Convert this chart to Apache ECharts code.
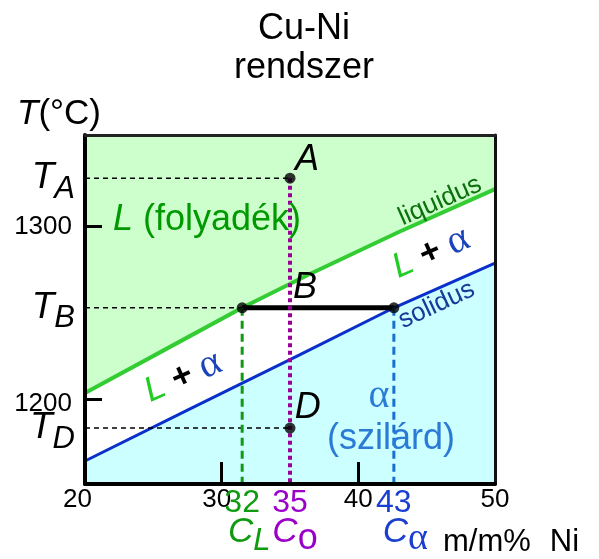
<!DOCTYPE html>
<html><head><meta charset="utf-8">
<script src="https://cdn.jsdelivr.net/npm/echarts@6/dist/echarts.min.js"></script>
<style>html,body{margin:0;padding:0;background:#fff}#c{width:599px;height:559px}</style>
</head><body><div id="c"></div>
<script>
// ---- data ----
const liquidusNi = [20, 27.3, 31.5, 36.3, 43, 50];
const liquidusT  = [1203.7, 1235, 1253, 1272, 1297, 1321.7];
const solidusNi  = [20, 27.5, 35.7, 42.6, 50];
const solidusT   = [1164.3, 1193.8, 1225.7, 1253, 1278.9];
const compositionNames = ['L', 'o', 'α'];          // C_L, C_o, C_α
const compositionValues = [31.5, 35, 42.6];
const compositionTickText = ['32', '35', '43'];
const tempNames  = ['A', 'B', 'D'];                // T_A, T_B, T_D
const tempValues = [1328, 1253, 1183.4];
const xTickValues = [20, 30, 40, 50];
const yTickValues = [1200, 1300];

const CL = compositionValues[0], C0 = compositionValues[1], Ca = compositionValues[2];
const TA = tempValues[0], TB = tempValues[1], TD = tempValues[2];

const SANS = 'Liberation Sans, Arial, sans-serif';
const SERIF = 'Liberation Serif, Times New Roman, serif';
const GREEN_T = '#109a10', PURPLE_T = '#9a00c8', BLUE_T = '#1a3fd0';

const zip = (a, b) => a.map((v, i) => [v, b[i]]);

// annotation layout (data coordinates)
const annotations = [
  { value: [36.24, 1338.5], text: '{i|A}' },
  { value: [36.1, 1264.4], text: '{i|B}' },
  { value: [36.3, 1195], text: '{i|D}' },
  { value: [22.05, 1303.8], text: '{gi|L}{g| (folyadék)}', align: 'left' },
  { value: [45.98, 1314.8], text: '{liq|liquidus}', rotate: 24 },
  { value: [45.32, 1284.7], text: '{Lb|L}{pl| + }{al|α}', rotate: 24 },
  { value: [45.73, 1254.6], text: '{sol|solidus}', rotate: 25 },
  { value: [27.17, 1212.9], text: '{Lb|L}{pl| + }{al|α}', rotate: 24 },
  { value: [41.51, 1201.4], text: '{as|α}' },
  { value: [42.39, 1176.8], text: '{sz|(szilárd)}' }
];

const chart = echarts.init(document.getElementById('c'), null, { renderer: 'canvas' });

const axisBlack = { show: true, lineStyle: { color: '#000', width: 4 } };
const Y_MIN = 1151, Y_MAX = 1353;

chart.setOption({
  animation: false,
  backgroundColor: '#fff',
  textStyle: { fontFamily: SANS },
  grid: { left: 85, right: 104, top: 135, bottom: 75, show: true, backgroundColor: '#ccffcc', borderWidth: 0, outerBoundsMode: 'none', containLabel: false },
  xAxis: [
    {
      type: 'value', min: 20, max: 50, position: 'bottom', z: 10,
      axisLine: axisBlack,
      splitLine: { show: false },
      axisTick: { show: true, inside: true, length: 22, customValues: [30, 40], lineStyle: { color: '#000', width: 3 } },
      axisLabel: {
        customValues: xTickValues, margin: 3, color: '#000', fontSize: 26, fontFamily: SANS, hideOverlap: false,
        formatter: v => v === 20 ? '{a|20}' : v === 30 ? '{b|30}' : '{n|' + v + '}',
        rich: {
          a: { fontSize: 26, padding: [0, 15, 0, 0], color: '#000' },
          b: { fontSize: 26, padding: [0, 10, 0, 0], color: '#000' },
          n: { fontSize: 26, color: '#000' }
        }
      }
    },
    {
      type: 'value', min: 20, max: 50, position: 'bottom', z: 10,
      axisLine: { show: false }, axisTick: { show: false }, splitLine: { show: false },
      axisLabel: {
        customValues: compositionValues, margin: 3.5, hideOverlap: false,
        formatter: v => {
          const i = compositionValues.findIndex(c => Math.abs(c - v) < 1e-6);
          const k = ['g', 'p', 'b'][i];
          return '{' + k + 'n|' + compositionTickText[i] + '}\n{' + k + 'C|C}{' + k + 's|' + compositionNames[i] + '}';
        },
        rich: {
          gn: { color: GREEN_T, fontSize: 32, height: 32, fontFamily: SANS },
          gC: { color: GREEN_T, fontSize: 35, fontStyle: 'italic', height: 26, verticalAlign: 'top', padding: [0, 0, 0, 14], fontFamily: SANS },
          gs: { color: GREEN_T, fontSize: 31, fontStyle: 'italic', height: 26, verticalAlign: 'top', padding: [9, 0, 0, 0], fontFamily: SANS },
          pn: { color: PURPLE_T, fontSize: 32, height: 32, fontFamily: SANS },
          pC: { color: PURPLE_T, fontSize: 35, fontStyle: 'italic', height: 26, verticalAlign: 'top', padding: [0, 0, 0, 10], fontFamily: SANS },
          ps: { color: PURPLE_T, fontSize: 36, height: 26, verticalAlign: 'top', padding: [6.5, 0, 0, 0], fontFamily: SANS },
          bn: { color: BLUE_T, fontSize: 32, height: 32, fontFamily: SANS },
          bC: { color: BLUE_T, fontSize: 35, fontStyle: 'italic', height: 26, verticalAlign: 'top', padding: [0, 0, 0, 23], fontFamily: SANS },
          bs: { color: BLUE_T, fontSize: 38, height: 26, verticalAlign: 'top', padding: [7, 0, 0, 0], fontFamily: SERIF }
        }
      }
    },
    {
      type: 'value', min: 20, max: 50, position: 'top', z: 10,
      axisLine: { show: true, lineStyle: { color: '#222', width: 3 } },
      axisTick: { show: false }, axisLabel: { show: false }, splitLine: { show: false }
    }
  ],
  yAxis: [
    {
      type: 'value', min: Y_MIN, max: Y_MAX, position: 'left', z: 10,
      axisLine: axisBlack,
      splitLine: { show: false },
      axisTick: { show: true, inside: true, length: 17, customValues: yTickValues, lineStyle: { color: '#000', width: 3 } },
      axisLabel: {
        customValues: yTickValues, margin: 13, hideOverlap: false,
        formatter: v => (v === 1200 ? '{n2|' : '{n|') + v + '}',
        rich: {
          n: { fontSize: 26, color: '#000', fontFamily: SANS },
          n2: { fontSize: 26, color: '#000', height: 26, padding: [9, 0, 0, 0], fontFamily: SANS }
        }
      }
    },
    {
      type: 'value', min: Y_MIN, max: Y_MAX, position: 'right', z: 10,
      axisLine: { show: true, lineStyle: { color: '#111', width: 3 } },
      axisTick: { show: false }, axisLabel: { show: false }, splitLine: { show: false }
    },
    {
      type: 'value', min: Y_MIN, max: Y_MAX, position: 'left', offset: 0, z: 10,
      axisLine: { show: false }, axisTick: { show: false }, splitLine: { show: false },
      axisLabel: {
        customValues: tempValues, margin: 10, hideOverlap: false,
        formatter: v => {
          const i = tempValues.findIndex(t => Math.abs(t - v) < 1e-6);
          return '{T|T}{s|' + tempNames[i] + '}';
        },
        rich: {
          T: { fontSize: 37, fontStyle: 'italic', color: '#000', height: 37, verticalAlign: 'top', padding: [8, 0, 0, 0], fontFamily: SANS },
          s: { fontSize: 31, fontStyle: 'italic', color: '#000', height: 31, verticalAlign: 'top', padding: [22, 0, 0, 0], fontFamily: SANS }
        }
      }
    }
  ],
  graphic: [
    { type: 'text', z: 100, style: { text: 'Cu-Ni\nrendszer', x: 304, y: 10, align: 'center', textAlign: 'center', verticalAlign: 'top', textVerticalAlign: 'top', lineHeight: 38.5, font: '36px ' + SANS, fill: '#000' } },
    { type: 'text', z: 100, style: { text: '{i|T}{n|(°C)}', x: 17, y: 114.5, align: 'left', textAlign: 'left', verticalAlign: 'middle', textVerticalAlign: 'middle', rich: { i: { fontSize: 35, fontStyle: 'italic', fontFamily: SANS, color: '#000' }, n: { fontSize: 35, fontFamily: SANS, color: '#000' } } } },
    { type: 'text', z: 100, style: { text: '{a|m/m%}{b|Ni}', x: 443, y: 542.5, align: 'left', textAlign: 'left', verticalAlign: 'middle', textVerticalAlign: 'middle', rich: { a: { fontSize: 31, fontFamily: SANS, color: '#000' }, b: { fontSize: 31, fontFamily: SANS, color: '#000', padding: [0, 0, 0, 19] } } } }
  ],
  series: [
    { type: 'line', name: 'liquidus', data: zip(liquidusNi, liquidusT), symbol: 'none', z: 2,
      lineStyle: { color: '#33cc33', width: 4 }, areaStyle: { color: '#ffffff', opacity: 1, origin: 'start' } },
    { type: 'line', name: 'solidus', data: zip(solidusNi, solidusT), symbol: 'none', z: 2,
      lineStyle: { color: '#0a30cc', width: 3 }, areaStyle: { color: '#ccffff', opacity: 1, origin: 'start' } },
    { type: 'line', data: [[20, TA], [C0, TA]], symbol: 'none', z: 3, lineStyle: { color: '#000', width: 1.5, type: [5, 4] } },
    { type: 'line', data: [[20, TB], [CL, TB]], symbol: 'none', z: 3, lineStyle: { color: '#000', width: 1.5, type: [5, 4] } },
    { type: 'line', data: [[20, TD], [C0, TD]], symbol: 'none', z: 3, lineStyle: { color: '#000', width: 1.5, type: [5, 4] } },
    { type: 'line', data: [[CL, TB], [Ca, TB]], symbol: 'none', z: 3, lineStyle: { color: '#000', width: 5 } },
    { type: 'line', data: [[C0, TA], [C0, Y_MIN]], symbol: 'none', z: 4, lineStyle: { color: '#990099', width: 4, type: [4, 3.5] } },
    { type: 'line', data: [[CL, TB], [CL, Y_MIN]], symbol: 'none', z: 3, lineStyle: { color: '#119911', width: 3, type: [8, 5] } },
    { type: 'line', data: [[Ca, TB], [Ca, Y_MIN]], symbol: 'none', z: 3, lineStyle: { color: '#1a6fd0', width: 3, type: [8, 5] } },
    { type: 'scatter', data: [[C0, TA], [CL, TB], [Ca, TB], [C0, TD]], symbolSize: 11, z: 5, itemStyle: { color: '#000' } },
    { type: 'scatter', z: 6, symbolSize: 1, itemStyle: { color: 'transparent' }, silent: true,
      data: annotations.map(a => ({
        value: a.value,
        label: { show: true, position: 'inside', formatter: a.text, rotate: a.rotate || 0, align: a.align || 'center', verticalAlign: 'middle' }
      })),
      label: {
        show: true, color: '#000', textBorderWidth: 0, opacity: 1,
        rich: {
          i: { fontSize: 36, fontStyle: 'italic', color: '#000', fontFamily: SANS, textBorderWidth: 0 },
          gi: { fontSize: 36, fontStyle: 'italic', color: '#009900', fontFamily: SANS },
          g: { fontSize: 36, color: '#009900', fontFamily: SANS },
          liq: { fontSize: 26, color: '#0d700d', fontFamily: SANS },
          sol: { fontSize: 26, color: '#1a3a9a', fontFamily: SANS },
          Lb: { fontSize: 35, fontStyle: 'italic', color: '#22cc22', fontFamily: SANS },
          pl: { fontSize: 35, fontWeight: 'bold', color: '#000', fontFamily: SANS },
          al: { fontSize: 40, color: '#1a44bb', fontFamily: SERIF },
          as: { fontSize: 40, color: '#2a7ad6', fontFamily: SERIF },
          sz: { fontSize: 36, color: '#2a7ad6', fontFamily: SANS }
        }
      }
    }
  ]
});
</script></body></html>
